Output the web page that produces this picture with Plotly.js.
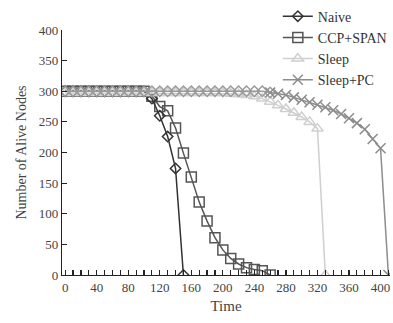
<!DOCTYPE html>
<html><head><meta charset="utf-8">
<script src="https://cdn.plot.ly/plotly-3.0.1.min.js"></script>
<style>html,body{margin:0;padding:0;background:#fff}#chart{width:393px;height:323px}</style>
</head><body><div id="chart"></div>
<script>
const naiveX = [0,10,20,30,40,50,60,70,80,90,100,110,120,130,140,150];
const naiveY = [300,300,300,300,300,300,300,300,300,300,300,288,260,226,174,0];
const ccpX = [0,10,20,30,40,50,60,70,80,90,100,110,120,130,140,150,160,170,180,190,200,210,220,230,240,250,260];
const ccpY = [300,300,300,300,300,300,300,300,300,300,300,292,275,268,240,199,160,119,88,61,41,27,18,12,9,7,0];
const sleepX = [0,10,20,30,40,50,60,70,80,90,100,110,120,130,140,150,160,170,180,190,200,210,220,230,240,250,260,270,280,290,300,310,320,330];
const sleepY = [297,297,297,297,297,297,297,297,297,297,297,297,297,297,297,297,297,297,297,297,297,296,295,294,292,288,283,277,271,265,258,250,239,0];
const pcEarlyX = [0,10,20,30,40,50,60,70,80,90,100,110,120,130,140,150,160,170,180,190,200,210,220,230,240,250,260];
const pcEarlyY = [300,300,300,300,300,300,300,300,300,300,300,300,300,300,300,300,300,300,300,300,300,300,300,300,300,300,298];
const pcX = [260,270,280,290,300,310,320,330,340,350,360,370,380,390,400,410];
const pcY = [298,296,294,290,286,282,278,274,269,263,256,248,238,222,207,0];
const names = ["Naive","CCP+SPAN","Sleep","Sleep+PC"];
const xTicks = [0,40,80,120,160,200,240,280,320,360,400];
const yTicks = [0,50,100,150,200,250,300,350,400];

const font = "Liberation Serif, Times New Roman, serif";
const traces = [
  {x: ccpX, y: ccpY, name: names[1], legendrank:2, mode:"lines+markers",
   line:{color:"#555555", width:1.5}, marker:{symbol:"square-open", size:10, color:"#555555", line:{width:1.5}}},
  {x: naiveX, y: naiveY, name: names[0], legendrank:1, mode:"lines+markers",
   line:{color:"#333333", width:1.5}, marker:{symbol:"diamond-open", size:8, color:"#333333", line:{width:1.5}}},
  {x: sleepX, y: sleepY, name: names[2], legendrank:3, mode:"lines+markers",
   line:{color:"#cfcfcf", width:1.5}, marker:{symbol:"triangle-up-open", size:10, color:"#cfcfcf", line:{width:1.5}}},
  {x: pcEarlyX, y: pcEarlyY, showlegend:false, hoverinfo:"skip", mode:"lines+markers",
   line:{color:"#9a9a9a", width:1.5}, marker:{symbol:"diamond-open", size:8, color:"#9a9a9a", line:{width:1.5}}},
  {x: pcX, y: pcY, name: names[3], legendrank:4, mode:"lines+markers",
   line:{color:"#8c8c8c", width:1.5}, marker:{symbol:"x-thin-open", size:10, color:"#8c8c8c", line:{width:1.5}}}
];
const layout = {
  width:393, height:323,
  margin:{l:62, r:1, t:30, b:48},
  paper_bgcolor:"#fff", plot_bgcolor:"#fff",
  font:{family:font, size:13, color:"#444"},
  showlegend:true,
  legend:{traceorder:"normal", x:0.658, y:1.12, xanchor:"left", yanchor:"top",
    font:{family:font, size:14, color:"#333"}, bgcolor:"rgba(0,0,0,0)", tracegroupgap:0},
  xaxis:{range:[-4,412], tickvals:xTicks, ticktext:xTicks.map(String),
    showline:true, linecolor:"#222", linewidth:1.2, ticks:"inside", ticklen:5, tickcolor:"#222", tickwidth:1.2,
    minor:{dtick:10, tick0:0, ticks:"inside", ticklen:5, tickcolor:"#222", tickwidth:1.2},
    showgrid:false, zeroline:false, tickfont:{size:13, color:"#444"},
    title:{text:"Time", font:{size:15, color:"#444"}, standoff:6}},
  yaxis:{range:[0,400], tickvals:yTicks, ticktext:yTicks.map(String),
    showline:true, linecolor:"#222", linewidth:1.2, ticks:"inside", ticklen:5, tickcolor:"#222", tickwidth:1.2,
    showgrid:false, zeroline:false, tickfont:{size:13, color:"#444"},
    title:{text:"Number of Alive Nodes", font:{size:14, color:"#444"}, standoff:8}}
};
Plotly.newPlot("chart", traces, layout, {displayModeBar:false, staticPlot:true});
</script></body></html>
